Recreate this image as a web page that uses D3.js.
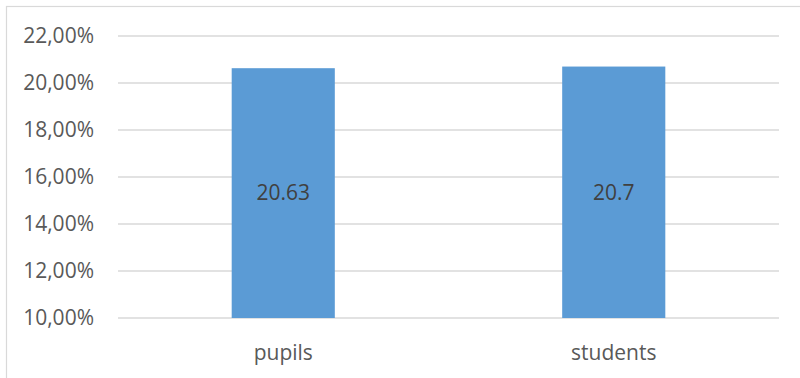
<!DOCTYPE html>
<html>
<head>
<meta charset="utf-8">
<script src="https://cdn.jsdelivr.net/npm/d3@7"></script>
<style>
  body { margin: 0; background: #fff; }
  svg { display: block; }
</style>
</head>
<body>
<script>
(function (d3) {
  "use strict";

  /***** Data *****/
  var categories = ["pupils", "students"];
  var values = [20.63, 20.7];
  var valueLabels = ["20.63", "20.7"];
  var yTicks = [10, 12, 14, 16, 18, 20, 22];

  /***** Configuration *****/
  var W = 800, H = 378;
  var margin = { top: 36, right: 21, bottom: 60, left: 118 };
  var width = W - margin.left - margin.right;
  var height = H - margin.top - margin.bottom;

  /***** Scales *****/
  var x = d3.scaleBand().domain(categories).range([0, width])
    .paddingInner(0.688).paddingOuter(0.344);
  var y = d3.scaleLinear().domain([10, 22]).range([height, 0]);

  var svg = d3.select("body").append("svg")
    .attr("width", W)
    .attr("height", H);

  // chart frame
  svg.append("rect")
    .attr("x", 6.5).attr("y", 6.5)
    .attr("width", 820).attr("height", 400)
    .attr("fill", "none")
    .attr("stroke", "#d9d9d9")
    .attr("stroke-width", 1.2);

  var g = svg.append("g")
    .attr("transform", "translate(" + margin.left + "," + margin.top + ")");

  // gridlines
  g.selectAll("line.grid")
    .data(yTicks)
    .enter().append("line")
    .attr("class", "grid")
    .attr("x1", 0).attr("x2", width)
    .attr("y1", function (d) { return y(d); })
    .attr("y2", function (d) { return y(d); })
    .attr("stroke", "#d9d9d9")
    .attr("stroke-width", 1.4);

  // y tick labels
  var fmt = function (d) { return d.toFixed(2).replace(".", ",") + "%"; };
  g.selectAll("text.ytick")
    .data(yTicks)
    .enter().append("text")
    .attr("class", "ytick")
    .attr("x", -24)
    .attr("y", function (d) { return y(d); })
    .attr("dy", "0.35em")
    .attr("text-anchor", "end")
    .attr("font-family", "'Open Sans', sans-serif")
    .attr("font-size", 21)
    .attr("fill", "#595959")
    .text(fmt);

  // bars
  var bars = categories.map(function (c, i) { return { cat: c, v: values[i], label: valueLabels[i] }; });
  g.selectAll("rect.bar")
    .data(bars)
    .enter().append("rect")
    .attr("class", "bar")
    .attr("x", function (d) { return x(d.cat); })
    .attr("width", x.bandwidth())
    .attr("y", function (d) { return y(d.v); })
    .attr("height", function (d) { return y(10) - y(d.v); })
    .attr("fill", "#5b9bd5");

  // value labels
  g.selectAll("text.val")
    .data(bars)
    .enter().append("text")
    .attr("class", "val")
    .attr("x", function (d) { return x(d.cat) + x.bandwidth() / 2; })
    .attr("y", function (d) { return (y(d.v) + y(10)) / 2; })
    .attr("dy", "0.35em")
    .attr("text-anchor", "middle")
    .attr("font-family", "'Open Sans', sans-serif")
    .attr("font-size", 21)
    .attr("fill", "#404040")
    .text(function (d) { return d.label; });

  // x category labels
  g.selectAll("text.xtick")
    .data(categories)
    .enter().append("text")
    .attr("class", "xtick")
    .attr("x", function (d) { return x(d) + x.bandwidth() / 2; })
    .attr("y", height + 35)
    .attr("dy", "0.35em")
    .attr("text-anchor", "middle")
    .attr("font-family", "'Open Sans', sans-serif")
    .attr("font-size", 21)
    .attr("fill", "#595959")
    .text(function (d) { return d; });

})(d3);
</script>
</body>
</html>
